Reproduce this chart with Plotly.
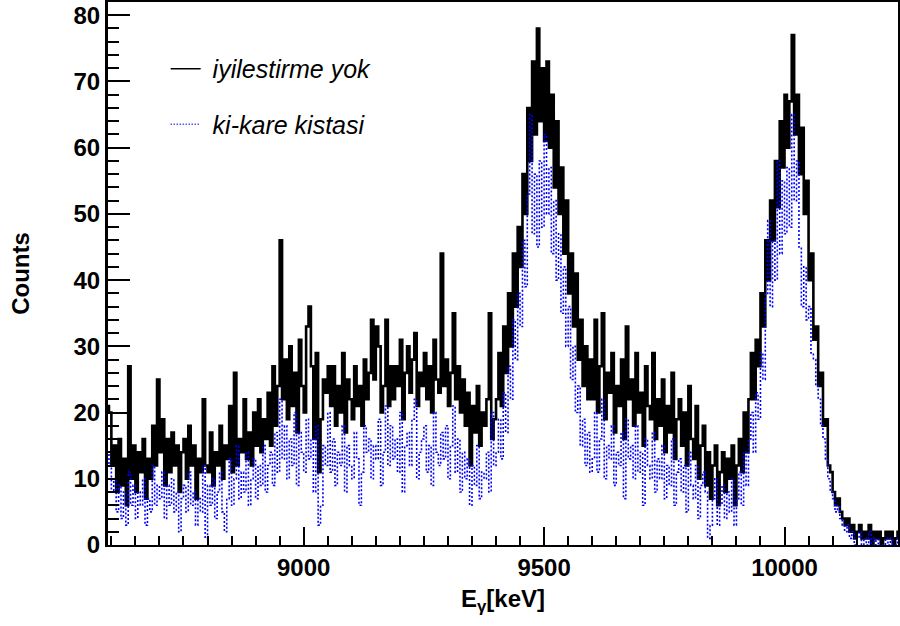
import numpy as np
import plotly.graph_objects as go

# Histogram binning (keV)
bin_start = 8590
bin_width = 5

# "iyilestirme yok" counts per 5 keV bin
iyilestirme_yok = [
    21, 20, 12, 15, 8, 16, 9, 13, 6, 27,
    10, 15, 8, 14, 11, 16, 7, 13, 10, 18,
    12, 25, 14, 19, 9, 16, 11, 17, 12, 15,
    8, 14, 16, 10, 18, 12, 15, 7, 13, 11,
    22, 12, 11, 17, 9, 14, 12, 18, 10, 15,
    13, 21, 11, 26, 12, 16, 14, 22, 13, 17,
    12, 20, 15, 22, 14, 19, 16, 23, 15, 27,
    18, 24, 46, 22, 28, 19, 30, 21, 26, 17,
    31, 24, 20, 33, 36, 27, 16, 29, 11, 19,
    25, 23, 27, 21, 27, 18, 24, 20, 29, 17,
    25, 22, 19, 27, 21, 24, 18, 28, 22, 26,
    34, 25, 33, 30, 20, 24, 34, 21, 27, 22,
    27, 24, 31, 19, 26, 30, 23, 28, 32, 21,
    26, 24, 29, 22, 27, 20, 31, 25, 23, 44,
    24, 28, 21, 26, 35, 22, 27, 20, 25, 18,
    23, 12, 21, 17, 24, 15, 20, 18, 22, 35,
    16, 19, 22, 29, 21, 33, 26, 38, 30, 44,
    36, 48, 42, 56, 50, 66, 58, 73, 62, 78,
    64, 72, 61, 73, 60, 68, 54, 64, 50, 57,
    44, 52, 38, 44, 33, 41, 28, 34, 24, 30,
    22, 28, 22, 34, 20, 27, 35, 19, 26, 23,
    29, 17, 24, 21, 28, 16, 33, 22, 25, 18,
    29, 20, 23, 15, 27, 21, 19, 29, 16, 22,
    18, 25, 14, 21, 17, 26, 13, 19, 22, 15,
    20, 12, 24, 16, 13, 21, 10, 15, 18, 9,
    14, 7, 12, 15, 6, 11, 14, 8, 13, 10,
    15, 6, 12, 16, 11, 20, 14, 22, 29, 22,
    31, 27, 38, 33, 46, 40, 52, 46, 58, 51,
    64, 57, 68, 60, 67, 77, 62, 68, 56, 63,
    50, 55, 40, 44, 31, 33, 24, 26, 18, 19,
    12, 11, 8, 6, 7, 5, 4, 3, 4, 2,
    3, 1, 2, 3, 1, 2, 1, 3, 0, 2,
    1, 2, 0, 1, 2, 1, 2, 0, 1, 2,
]

# "ki-kare kistasi" counts per 5 keV bin
ki_kare_kistasi = [
    14, 12, 8, 10, 5, 9, 4, 8, 3, 11,
    6, 9, 4, 8, 6, 10, 3, 7, 5, 12,
    6, 9, 7, 11, 4, 9, 6, 10, 5, 8,
    2, 7, 9, 5, 11, 6, 8, 3, 7, 5,
    12, 1, 9, 6, 10, 4, 8, 11, 5, 2,
    7, 13, 6, 10, 15, 7, 11, 8, 14, 6,
    10, 13, 7, 12, 9, 15, 8, 12, 14, 9,
    17, 11, 22, 13, 18, 10, 16, 12, 20, 9,
    17, 14, 11, 19, 13, 16, 8, 18, 3, 6,
    15, 12, 20, 11, 16, 9, 14, 12, 18, 8,
    15, 12, 10, 17, 13, 6, 11, 18, 14, 16,
    10, 15, 13, 19, 9, 14, 21, 12, 18, 13,
    16, 11, 20, 8, 15, 17, 12, 19, 22, 10,
    14, 16, 18, 11, 15, 9, 20, 14, 12, 17,
    13, 18, 10, 15, 21, 11, 16, 8, 14, 10,
    13, 6, 12, 9, 15, 7, 11, 10, 14, 8,
    20, 12, 14, 19, 13, 23, 17, 27, 22, 34,
    28, 38, 33, 46, 39, 53, 65, 47, 56, 45,
    58, 48, 62, 50, 57, 44, 52, 40, 47, 35,
    42, 30, 36, 25, 30, 20, 24, 15, 19, 12,
    17, 11, 13, 20, 11, 16, 22, 10, 15, 13,
    18, 9, 14, 12, 17, 7, 19, 13, 15, 10,
    18, 11, 14, 6, 16, 12, 10, 17, 8, 13,
    10, 15, 7, 12, 9, 16, 6, 11, 13, 8,
    12, 5, 14, 9, 7, 12, 4, 9, 11, 8,
    1, 3, 7, 10, 3, 6, 9, 4, 8, 5,
    10, 3, 7, 11, 6, 14, 9, 16, 20, 14,
    23, 19, 29, 25, 38, 49, 36, 46, 40, 58,
    44, 55, 47, 57, 48, 65, 52, 58, 45, 36,
    42, 34, 36, 29, 28, 24, 22, 18, 16, 13,
    10, 8, 7, 5, 6, 4, 3, 2, 3, 1,
    2, 0, 1, 2, 0, 1, 0, 2, 0, 1,
    0, 1, 0, 0, 1, 0, 1, 0, 0, 1,
]

x_tick_vals = [9000, 9500, 10000]
x_tick_text = ["9000", "9500", "10000"]
y_tick_vals = [0, 10, 20, 30, 40, 50, 60, 70, 80]
y_tick_text = ["0", "10", "20", "30", "40", "50", "60", "70", "80"]

series_names = ["iyilestirme yok", "ki-kare kistasi"]


def step_xy(counts):
    edges = bin_start + bin_width * np.arange(len(counts) + 1)
    y = list(counts) + [counts[-1]]
    return edges, y


FONT = "Liberation Sans, Arial, sans-serif"

fig = go.Figure()
xb, yb = step_xy(iyilestirme_yok)
fig.add_trace(go.Scatter(
    x=xb, y=yb, mode="lines", line=dict(color="black", width=2.6, shape="hv"),
    showlegend=False, hoverinfo="skip",
))
xk, yk = step_xy(ki_kare_kistasi)
fig.add_trace(go.Scatter(
    x=xk, y=yk, mode="lines", line=dict(color="#0000ff", width=1.6, shape="hv", dash="2px,2px"),
    showlegend=False, hoverinfo="skip",
))
# legend entries (thin line samples, as in the reference legend)
fig.add_trace(go.Scatter(
    x=[None], y=[None], mode="lines", line=dict(color="black", width=1.3),
    name="\u00a0" + series_names[0], legendgroup="a",
))
fig.add_trace(go.Scatter(
    x=[None], y=[None], mode="lines", line=dict(color="#0000ff", width=1.3, dash="1px,2px"),
    name="\u00a0" + series_names[1], legendgroup="b",
))

fig.update_layout(
    width=900, height=626,
    margin=dict(l=108, r=2, t=2, b=81),
    plot_bgcolor="white", paper_bgcolor="white",
    font=dict(family=FONT, color="black"),
    showlegend=True,
    legend=dict(
        x=0.073, y=0.919, xanchor="left", yanchor="top",
        bgcolor="rgba(0,0,0,0)", borderwidth=0,
        font=dict(family=FONT, size=25, style="italic", color="black"),
        traceorder="grouped", tracegroupgap=20, itemwidth=30,
    ),
    xaxis=dict(
        range=[8593, 10236], automargin=False,
        showgrid=False, zeroline=False,
        showline=True, linecolor="black", linewidth=2, mirror=True,
        ticks="inside", ticklen=18, tickwidth=1.5, tickcolor="black",
        tickmode="array", tickvals=x_tick_vals, ticktext=x_tick_text,
        tickfont=dict(family=FONT, size=24, weight="bold", color="black"),
        minor=dict(ticks="inside", ticklen=9, tickwidth=1.5, tickcolor="black",
                   tickmode="linear", tick0=0, dtick=50, showgrid=False),
        title=dict(text="<b>E<sub>γ</sub>[keV]</b>", font=dict(family=FONT, size=24, color="black"), standoff=10),
    ),
    yaxis=dict(
        range=[0, 82], automargin=False,
        showgrid=False, zeroline=False,
        showline=True, linecolor="black", linewidth=3, mirror=True,
        ticks="inside", ticklen=22, tickwidth=1.5, tickcolor="black",
        tickmode="array", tickvals=y_tick_vals, ticktext=y_tick_text,
        tickfont=dict(family=FONT, size=24, weight="bold", color="black"),
        minor=dict(ticks="inside", ticklen=11, tickwidth=1.5, tickcolor="black",
                   tickmode="linear", tick0=0, dtick=2, showgrid=False),
        title=dict(text="<b>Counts</b>", font=dict(family=FONT, size=24, color="black"), standoff=38),
    ),
)

fig.write_html("out.html", config={"displayModeBar": False},
               post_script="document.body.style.margin='0';")
